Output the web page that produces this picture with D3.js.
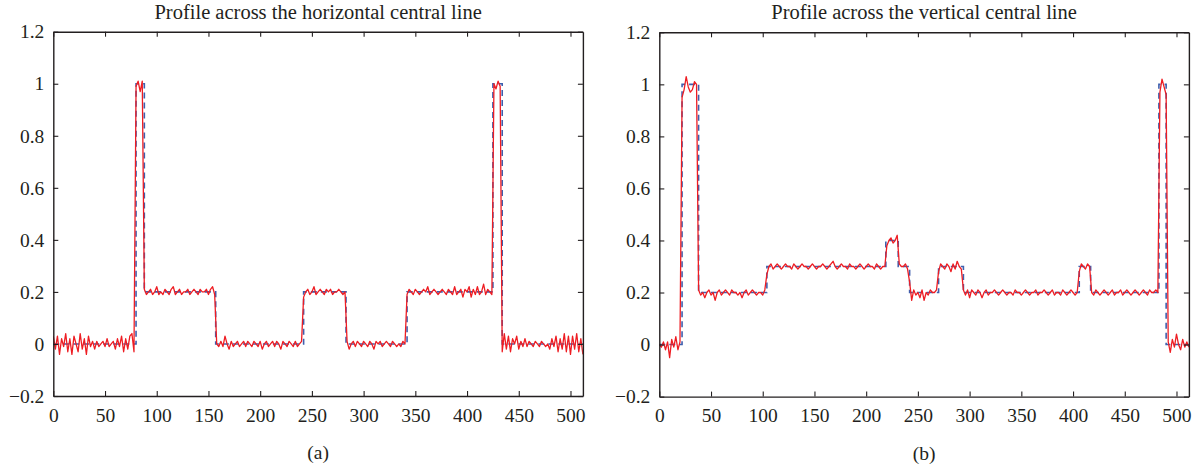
<!DOCTYPE html>
<html>
<head>
<meta charset="utf-8">
<script src="https://cdn.jsdelivr.net/npm/d3@7"></script>
<style>
  body { margin: 0; background: #fff; }
  svg text { font-family: "Liberation Serif", "Times New Roman", serif; fill: #231f20; }
</style>
</head>
<body>
<svg id="chart" width="1196" height="469"></svg>
<script>

var xTicks = [0, 50, 100, 150, 200, 250, 300, 350, 400, 450, 500];
var yTicks = [-0.2, 0, 0.2, 0.4, 0.6, 0.8, 1, 1.2];
var yTickLabels = ['\u22120.2', '0', '0.2', '0.4', '0.6', '0.8', '1', '1.2'];

// measured profiles are sampled every 2 pixels (x = 0, 2, ..., 512)
var sampleStep = 2;

// (a) horizontal central line
var truthEdgesA = [0, 80, 88, 157, 242, 283, 342, 425, 434, 512];
var truthLevelsA = [0, 1, 0.2, 0, 0.2, 0, 0.2, 1, 0];
var measuredA = [
  0.03, -0.02, 0.03, -0.04, 0.02, -0.01, 0.04, -0.03, 0.02, -0.04,
  0.03, 0.00, -0.03, 0.04, -0.02, 0.02, -0.04, 0.03, -0.01, 0.01,
  -0.02, 0.01, -0.01, 0.00, 0.01, -0.01, 0.02, -0.01, 0.00, 0.01,
  -0.02, 0.02, -0.01, 0.03, -0.03, 0.02, -0.02, 0.03, 0.04, -0.03,
  0.99, 1.01, 0.97, 1.01,
  0.21, 0.19, 0.20, 0.21, 0.19, 0.20, 0.22, 0.19, 0.20, 0.19,
  0.21, 0.20, 0.19, 0.21, 0.22, 0.19, 0.20, 0.21, 0.19, 0.20,
  0.20, 0.21, 0.19, 0.20, 0.21, 0.20, 0.19, 0.21, 0.20, 0.20,
  0.21, 0.19, 0.21, 0.22, 0.19,
  0.00, -0.01, 0.01, -0.01, 0.03, 0.00, -0.02, 0.01, -0.01, 0.00,
  0.01, -0.01, 0.00, 0.01, -0.01, 0.01, 0.00, -0.01, 0.01, 0.00,
  -0.01, 0.01, -0.02, 0.00, 0.01, -0.01, 0.00, 0.01, -0.01, 0.01,
  0.00, -0.02, 0.01, 0.00, -0.01, 0.01, 0.00, -0.01, 0.01, -0.01,
  0.00, 0.01,
  0.18, 0.20, 0.21, 0.19, 0.20, 0.22, 0.19, 0.20, 0.21, 0.20,
  0.19, 0.21, 0.20, 0.21, 0.19, 0.20, 0.20, 0.21, 0.20, 0.19,
  0.20,
  0.01, -0.02, 0.00, 0.01, -0.01, 0.01, 0.00, -0.01, 0.01, 0.00,
  -0.01, 0.01, 0.00, -0.02, 0.01, 0.00, 0.01, -0.01, 0.00, 0.01,
  0.00, -0.01, 0.01, 0.00, -0.01, 0.00, -0.01, 0.01, 0.00,
  0.19, 0.21, 0.20, 0.19, 0.21, 0.20, 0.19, 0.20, 0.21, 0.20,
  0.22, 0.19, 0.20, 0.21, 0.20, 0.19, 0.20, 0.21, 0.20, 0.19,
  0.21, 0.20, 0.19, 0.22, 0.19, 0.20, 0.21, 0.18, 0.21, 0.20,
  0.22, 0.18, 0.21, 0.19, 0.22, 0.19, 0.20, 0.23, 0.19, 0.21,
  0.20, 0.19,
  1.00, 0.98, 1.01, 0.99,
  -0.03, 0.04, -0.02, 0.03, -0.03, 0.02, 0.00, 0.03, -0.02, 0.01,
  -0.01, 0.02, -0.01, 0.01, 0.00, -0.01, 0.01, 0.00, -0.01, 0.01,
  0.00, -0.01, 0.00, -0.02, 0.02, -0.01, 0.03, -0.03, 0.02, -0.02,
  0.04, -0.03, 0.03, -0.04, 0.03, -0.02, 0.04, -0.03, 0.02, -0.04
];

// (b) vertical central line
var truthEdgesB = [0, 22, 38, 104, 219, 231, 242, 270, 294, 406, 417, 483, 490, 512];
var truthLevelsB = [0, 1, 0.2, 0.3, 0.4, 0.3, 0.2, 0.3, 0.2, 0.3, 0.2, 1, 0];
var measuredB = [
  0.00, -0.01, 0.01, -0.02, 0.01, -0.05, 0.02, -0.01, 0.03, -0.02, 0.01,
  0.95, 0.98, 1.03, 0.99, 0.97, 0.98, 1.01, 1.00,
  0.21, 0.19, 0.20, 0.18, 0.20, 0.21, 0.19, 0.20, 0.17, 0.20,
  0.21, 0.19, 0.20, 0.21, 0.20, 0.19, 0.21, 0.20, 0.20, 0.19,
  0.20, 0.18, 0.20, 0.21, 0.19, 0.20, 0.21, 0.20, 0.19, 0.20,
  0.20, 0.19, 0.21,
  0.27, 0.30, 0.31, 0.29, 0.30, 0.31, 0.30, 0.29, 0.30, 0.31,
  0.30, 0.30, 0.29, 0.31, 0.30, 0.29, 0.30, 0.31, 0.30, 0.30,
  0.29, 0.30, 0.31, 0.30, 0.29, 0.30, 0.30, 0.31, 0.30, 0.29,
  0.30, 0.31, 0.32, 0.30, 0.29, 0.30, 0.31, 0.30, 0.30, 0.29,
  0.31, 0.30, 0.30, 0.29, 0.30, 0.31, 0.30, 0.29, 0.30, 0.31,
  0.30, 0.30, 0.29, 0.31, 0.30, 0.29, 0.30, 0.30,
  0.38, 0.40, 0.41, 0.39, 0.40, 0.42,
  0.31, 0.30, 0.30, 0.31, 0.29,
  0.24, 0.17, 0.21, 0.19, 0.20, 0.18, 0.21, 0.17, 0.20, 0.19, 0.21, 0.20, 0.20, 0.21,
  0.28, 0.31, 0.30, 0.29, 0.31, 0.30, 0.28, 0.31, 0.29, 0.32, 0.30, 0.29,
  0.21, 0.19, 0.21, 0.18, 0.21, 0.20, 0.19, 0.21, 0.20, 0.18,
  0.20, 0.21, 0.19, 0.20, 0.20, 0.21, 0.20, 0.19, 0.20, 0.21,
  0.20, 0.19, 0.20, 0.20, 0.19, 0.21, 0.20, 0.20, 0.19, 0.20,
  0.21, 0.20, 0.19, 0.20, 0.20, 0.21, 0.19, 0.20, 0.20, 0.21,
  0.20, 0.19, 0.20, 0.21, 0.19, 0.20, 0.20, 0.19, 0.21, 0.20,
  0.19, 0.20, 0.21, 0.20, 0.19, 0.20,
  0.28, 0.31, 0.30, 0.29, 0.31, 0.30,
  0.20, 0.19, 0.21, 0.20, 0.19, 0.20, 0.21, 0.20, 0.19, 0.20,
  0.21, 0.19, 0.20, 0.20, 0.21, 0.19, 0.20, 0.21, 0.20, 0.19,
  0.20, 0.21, 0.20, 0.19, 0.20, 0.21, 0.20, 0.19, 0.21, 0.20,
  0.20, 0.21, 0.20,
  0.97, 1.02, 0.99, 0.96,
  0.01, -0.03, 0.02, -0.01, 0.04, 0.00, -0.02, 0.02, -0.01, 0.01, -0.01
];

(function init() {

  var svg = d3.select('#chart');

  profilePanel(svg, {
    id: 'a',
    left: 53.3, top: 31.7,
    title: 'Profile across the horizontal central line',
    caption: '(a)',
    edges: truthEdgesA, levels: truthLevelsA, measured: measuredA
  });

  profilePanel(svg, {
    id: 'b',
    left: 659.3, top: 32.3,
    title: 'Profile across the vertical central line',
    caption: '(b)',
    edges: truthEdgesB, levels: truthLevelsB, measured: measuredB
  });
})();

function profilePanel(svg, opts) {

  var width = 529.6;
  var height = 364.3;
  var tickLen = 5;

  var x = d3.scaleLinear().domain([0, 512]).range([0, width]);
  var y = d3.scaleLinear().domain([-0.2, 1.2]).range([height, 0]);

  var g = svg.append('g')
      .attr('transform', 'translate(' + opts.left + ',' + opts.top + ')');

  g.append('clipPath')
      .attr('id', 'clip-' + opts.id)
    .append('rect')
      .attr('width', width)
      .attr('height', height);

  var truth = opts.levels.map(function (l, i) { return [opts.edges[i], l]; });
  truth.push([opts.edges[opts.edges.length - 1], opts.levels[opts.levels.length - 1]]);

  var measured = opts.measured.map(function (v, i) { return [i * sampleStep, v]; });

  var line = d3.line()
      .x(function (d) { return x(d[0]); })
      .y(function (d) { return y(d[1]); });

  var plot = g.append('g')
      .attr('clip-path', 'url(#clip-' + opts.id + ')');

  plot.append('path')
      .datum(truth)
      .attr('d', line.curve(d3.curveStepAfter))
      .attr('fill', 'none')
      .attr('stroke', '#3f5fae')
      .attr('stroke-width', 1.6)
      .attr('stroke-dasharray', '6,4');

  plot.append('path')
      .datum(measured)
      .attr('d', line.curve(d3.curveLinear))
      .attr('fill', 'none')
      .attr('stroke', '#ee1d23')
      .attr('stroke-width', 1.3)
      .attr('stroke-linejoin', 'round');

  // axes with inward ticks on all four sides
  var axisColor = '#231f20';

  var bottom = g.append('g')
      .attr('transform', 'translate(0,' + height + ')')
      .call(d3.axisBottom(x).tickValues(xTicks).tickSize(-tickLen).tickPadding(12).tickSizeOuter(0));

  var top = g.append('g')
      .call(d3.axisTop(x).tickValues(xTicks).tickSize(-tickLen).tickFormat('').tickSizeOuter(0));

  var left = g.append('g')
      .call(d3.axisLeft(y).tickValues(yTicks).tickSize(-tickLen).tickPadding(9).tickSizeOuter(0)
        .tickFormat(function (d, i) { return yTickLabels[i]; }));

  var right = g.append('g')
      .attr('transform', 'translate(' + width + ',0)')
      .call(d3.axisRight(y).tickValues(yTicks).tickSize(-tickLen).tickFormat('').tickSizeOuter(0));

  [bottom, top, left, right].forEach(function (a) {
    a.select('.domain').attr('stroke', axisColor).attr('stroke-width', 1.4);
    a.selectAll('.tick line').attr('stroke', axisColor).attr('stroke-width', 1.1);
    a.selectAll('.tick text')
        .attr('fill', axisColor)
        .style('font-family', '"Liberation Serif", "Times New Roman", serif')
        .style('font-size', '19.5px');
  });

  bottom.selectAll('.tick text').attr('dy', '0.71em');

  g.append('text')
      .attr('x', width / 2)
      .attr('y', -opts.top + 19)
      .attr('text-anchor', 'middle')
      .style('font-size', '20.5px')
      .text(opts.title);

  g.append('text')
      .attr('x', width / 2)
      .attr('y', height + 63)
      .attr('text-anchor', 'middle')
      .style('font-size', '19.5px')
      .text(opts.caption);
}
</script>
</body>
</html>
